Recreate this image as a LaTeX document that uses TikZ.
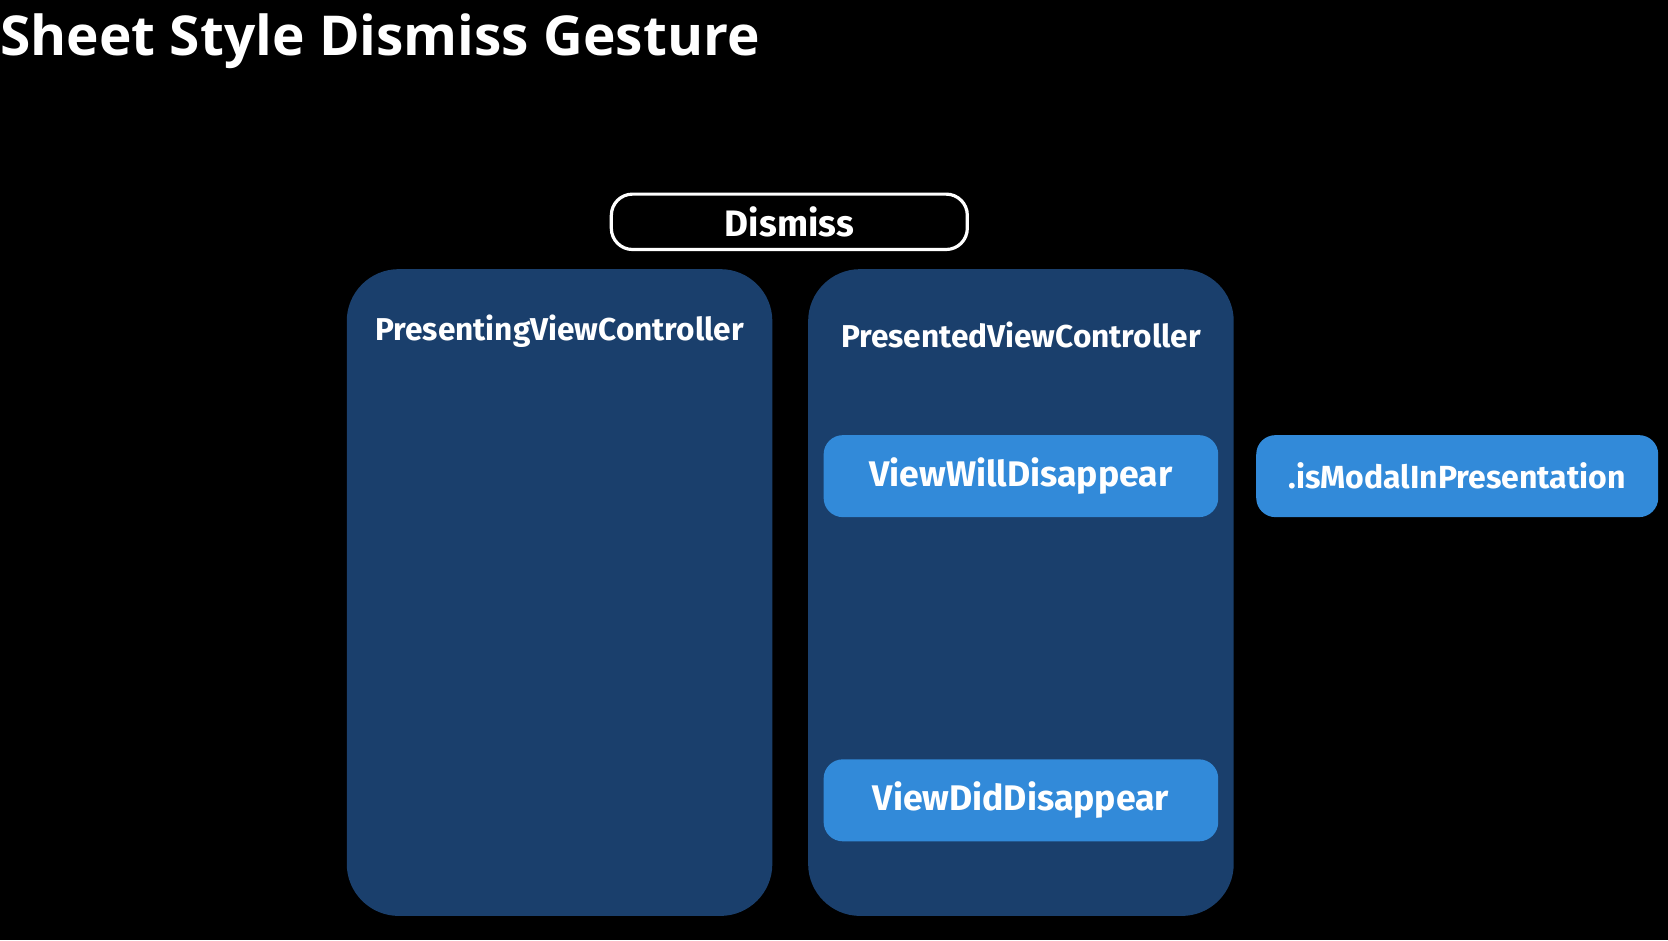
\documentclass[tikz,border=0pt]{standalone}
\usepackage{fontspec}
\setmainfont{Fira Sans}
\newfontfamily\titlefont{Open Sans}
\usetikzlibrary{calc}
\usetikzlibrary{positioning}
\definecolor{vcblue}{HTML}{1A3F6C}
\definecolor{callblue}{HTML}{328AD9}
\tikzset{
    vcbox/.style={
           rectangle,
           rounded corners=26pt,
           fill=vcblue,
           minimum width=212.8pt,
           minimum height=323.4pt,
           inner sep=0pt,
           },
    vctitle/.style={
           text=white,
           font=\bfseries\fontsize{15.8}{18}\selectfont,
           inner sep=0pt,
           },
    callbox/.style={
           rectangle,
           rounded corners=9.6pt,
           fill=callblue,
           text=white,
           minimum width=197.3pt,
           minimum height=41pt,
           inner sep=0pt,
           font=\bfseries\fontsize{17.8}{20}\selectfont,
           },
    actionbox/.style={
           rectangle,
           rounded corners=10.6pt,
           draw=white, line width=1.6pt,
           text=white,
           minimum width=178pt,
           minimum height=27.7pt,
           inner sep=0pt,
           font=\bfseries\fontsize{18.4}{21}\selectfont,
           },
}
\begin{document}
\begin{tikzpicture}[x=0.5319pt,y=-0.5319pt]
      \fill[black] (0,0) rectangle (1568,884);
      \useasboundingbox (0,0) rectangle (1568,884);
      \node[anchor=base west, inner sep=0pt, text=white,
            font=\titlefont\bfseries\fontsize{27.5}{32}\selectfont] (title) at (0,52) {Sheet Style Dismiss Gesture};
      \node[actionbox] (dismiss) at (742,208.5) {Dismiss};
      \node[vcbox] (presenting) at (526,557) {};
      \node[vcbox] (presented) [right=17.5pt of presenting] {};
      \node[vctitle] (presenting_t) at ($(presenting.north)+(0,59)$) {PresentingViewController};
      \node[vctitle] (presented_t) at ($(presented.north)+(0,62)$) {PresentedViewController};
      \node[callbox] (will) [below=83pt of presented.north] {ViewWillDisappear};
      \node[callbox] (did) [below=120.7pt of will] {ViewDidDisappear};
      \node[callbox, minimum width=201pt, font=\bfseries\fontsize{16}{19}\selectfont] (modal) [right=18.6pt of will] {.isModalInPresentation};
\end{tikzpicture}
\end{document}
